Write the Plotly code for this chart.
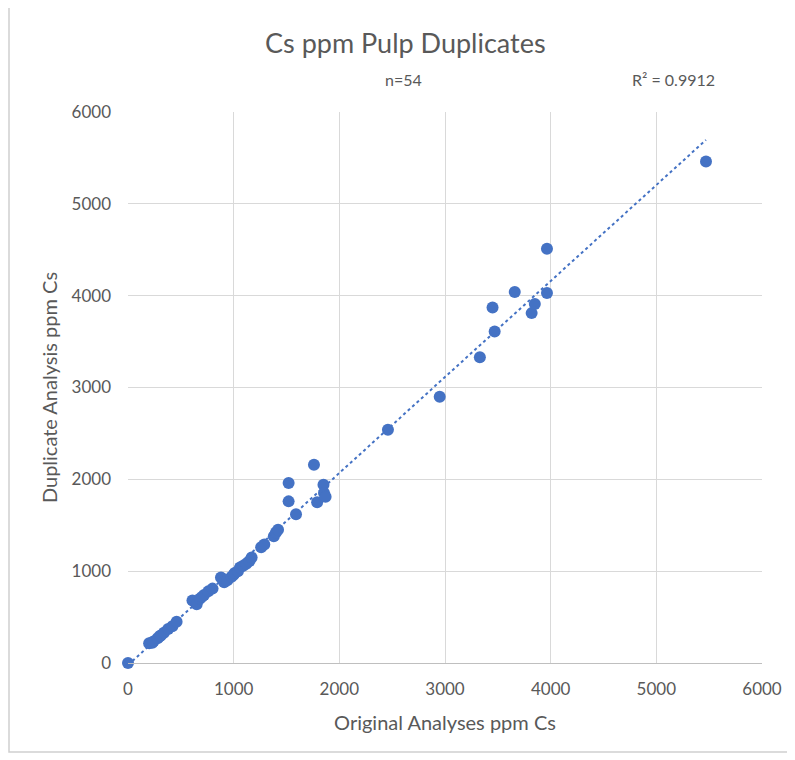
import numpy as np
import plotly.graph_objects as go

original = [0,
            200, 230, 240, 280, 300, 310, 340, 380, 420, 460,
            610, 650, 680, 700, 720, 760, 800,
            880, 910, 940,
            980, 1000, 1010, 1040, 1060, 1090, 1120, 1150, 1170,
            1260, 1290, 1380, 1400, 1420,
            1520, 1520, 1590,
            1760, 1790, 1850, 1855, 1870,
            2460, 2950, 3330, 3450, 3470, 3660, 3820, 3850, 3965, 3965, 5470]
duplicate = [0,
             215, 220, 235, 270, 290, 300, 330, 370, 400, 450,
             680, 640, 700, 720, 740, 780, 810,
             930, 880, 900,
             940, 960, 980, 1000, 1040, 1060, 1080, 1110, 1150,
             1260, 1290, 1380, 1420, 1450,
             1960, 1760, 1620,
             2160, 1750, 1940, 1850, 1810,
             2540, 2900, 3330, 3870, 3610, 4040, 3810, 3910, 4510, 4030, 5460]

title_text = "Cs ppm Pulp Duplicates"
n_text = "n=54"
r2_text = "R² = 0.9912"
x_title = "Original Analyses ppm Cs"
y_title = "Duplicate Analysis ppm Cs"
tick_vals = [0, 1000, 2000, 3000, 4000, 5000, 6000]

xa = np.array(original, dtype=float)
ya = np.array(duplicate, dtype=float)
slope, intercept = np.polyfit(xa, ya, 1)
tx = np.array([xa.min(), xa.max()])
ty = slope * tx + intercept

FONT = "Lato, Liberation Sans, Arial, sans-serif"
GRAY = "#595959"
BLUE = "#4472C4"

fig = go.Figure()
fig.add_trace(go.Scatter(x=tx, y=ty, mode="lines",
                         line=dict(color=BLUE, width=2, dash="dot"),
                         hoverinfo="skip", showlegend=False))
fig.add_trace(go.Scatter(x=original, y=duplicate, mode="markers",
                         marker=dict(color=BLUE, size=12),
                         cliponaxis=False, showlegend=False))

# page body has an 8px margin; work in screen coordinates and shift
OFF = 8
W, H = 795 - OFF, 760 - OFF
PL, PR, PT, PB = 128, 762, 112, 663  # plot area in screen coords
L, T = PL - OFF, PT - OFF
R, B = W - (PR - OFF), H - (PB - OFF)
pw, ph = PR - PL, PB - PT

def px(xs):
    return (xs - PL) / pw

def py(ys):
    return (PB - ys) / ph

fig.update_layout(
    width=W, height=H,
    margin=dict(l=L, r=R, t=T, b=B, autoexpand=False),
    paper_bgcolor="white", plot_bgcolor="white",
    font=dict(family=FONT, color=GRAY, size=17),
    xaxis=dict(range=[0, 6000], tickvals=tick_vals, showgrid=True,
               gridcolor="#d9d9d9", gridwidth=1, zeroline=False,
               showline=True, linecolor="#bfbfbf", linewidth=1,
               ticks="", tickfont=dict(size=17, color=GRAY), ticklabelstandoff=11,
               title=dict(text=x_title, font=dict(size=20, color=GRAY), standoff=17)),
    yaxis=dict(range=[0, 6000], tickvals=tick_vals, showgrid=True,
               gridcolor="#d9d9d9", gridwidth=1, zeroline=False,
               showline=False, ticks="", tickfont=dict(size=17, color=GRAY), ticklabelstandoff=16,
               title=dict(text=y_title, font=dict(size=20, color=GRAY), standoff=8)),
    annotations=[
        dict(text=title_text, xref="paper", yref="paper", x=px(405), y=py(42),
             showarrow=False, font=dict(size=27, color=GRAY), xanchor="center", yanchor="middle"),
        dict(text=n_text, xref="paper", yref="paper", x=px(403), y=py(79),
             showarrow=False, font=dict(size=16, color=GRAY), xanchor="center", yanchor="middle"),
        dict(text=r2_text, xref="paper", yref="paper", x=px(673), y=py(79),
             showarrow=False, font=dict(size=16, color=GRAY), xanchor="center", yanchor="middle"),
    ],
    shapes=[
        dict(type="rect", xref="paper", yref="paper",
             x0=px(9), x1=px(810), y0=py(752), y1=py(6),
             line=dict(color="#d0d0d0", width=1.5), fillcolor="rgba(0,0,0,0)", layer="below"),
    ],
)

fig.write_html("out.html")
